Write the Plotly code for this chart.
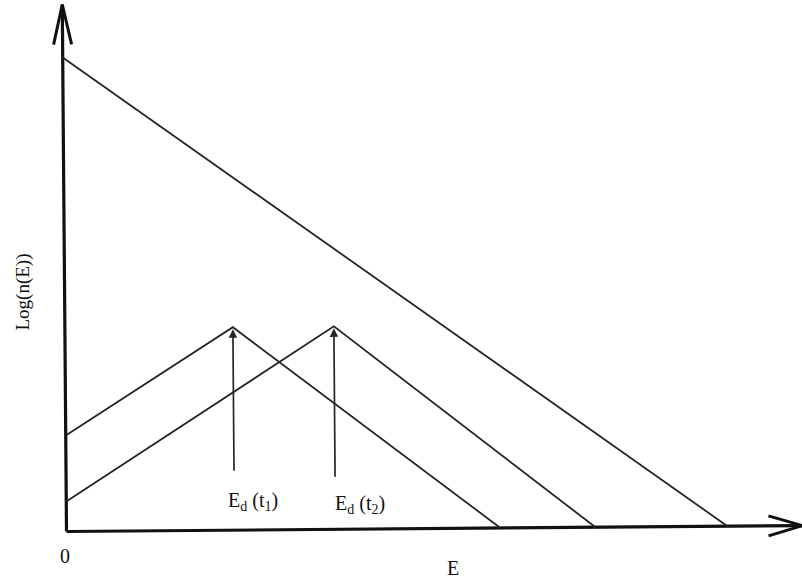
import math
import plotly.graph_objects as go

# Energy distribution sketch: log n(E) against E (arbitrary units)
# Initial distribution: straight decline in log space
initial_E = [0, 661]
initial_logn = [474, 0]

# Distributions after times t1 and t2: rise to a peak at E_d(t), then fall
t1_E = [0, 168, 434]
t1_logn = [96, 203, 0]
t2_E = [0, 269, 529]
t2_logn = [30, 203, 0]

# Markers for the peak energies
peak_labels = ["E<sub>d</sub> (t<sub>1</sub>)", "E<sub>d</sub> (t<sub>2</sub>)"]
peak_E = [168, 269]
peak_logn = [203, 203]
marker_base = [58, 51]
label_pos_E = [187, 294]
label_pos_logn = [29, 25]

# Axis extents
axis_E_max = 736
axis_logn_max = 527

# The whole drawing sits at a slight tilt
TILT = 0.008


def tilt(xs, ys):
    c, s = math.cos(TILT), math.sin(TILT)
    return ([x * c - y * s for x, y in zip(xs, ys)],
            [x * s + y * c for x, y in zip(xs, ys)])


fig = go.Figure()

line_col = "#262626"
axis_col = "#111111"
text_font = dict(family="Liberation Serif", size=20, color="#111")


def add_line(xs, ys, width, color):
    tx, ty = tilt(xs, ys)
    fig.add_trace(go.Scatter(x=tx, y=ty, mode="lines",
                             line=dict(color=color, width=width),
                             hoverinfo="skip", showlegend=False))


# axes with open arrowheads
add_line([0, 0], [0, axis_logn_max], 3.2, axis_col)
add_line([-9, 0, 9], [axis_logn_max - 40, axis_logn_max, axis_logn_max - 40], 3, axis_col)
add_line([0, axis_E_max], [0, 0], 3.2, axis_col)
add_line([axis_E_max - 34, axis_E_max, axis_E_max - 34], [10, 0, -10], 3, axis_col)

# distributions
add_line(initial_E, initial_logn, 1.8, line_col)
add_line(t1_E, t1_logn, 1.8, line_col)
add_line(t2_E, t2_logn, 1.8, line_col)

# arrows pointing at the peaks, with their labels
for lab, pe, pl, base, lx, ly in zip(peak_labels, peak_E, peak_logn, marker_base,
                                     label_pos_E, label_pos_logn):
    (tx0, tx1), (ty0, ty1) = tilt([pe, pe], [base, pl - 2])
    fig.add_annotation(x=tx1, y=ty1, ax=tx0, ay=ty0, xref="x", yref="y",
                       axref="x", ayref="y", showarrow=True, arrowhead=2,
                       arrowsize=1.0, arrowwidth=1.7, arrowcolor=line_col, text="")
    (lxx,), (lyy,) = tilt([lx], [ly])
    fig.add_annotation(x=lxx, y=lyy, xref="x", yref="y", text=lab, showarrow=False,
                       font=text_font)

# axis labels
fig.add_annotation(x=-1.5, y=-24.5, xref="x", yref="y", text="0", showarrow=False,
                   font=text_font)
fig.add_annotation(x=386, y=-36, xref="x", yref="y", text="E", showarrow=False,
                   font=text_font)
fig.add_annotation(x=-44.5, y=239, xref="x", yref="y", text="Log(n(E))", textangle=-90,
                   showarrow=False,
                   font=dict(family="Liberation Serif", size=19, color="#111"))

fig.update_layout(
    width=802, height=579,
    margin=dict(l=0, r=0, t=0, b=0),
    paper_bgcolor="white", plot_bgcolor="white",
    xaxis=dict(range=[-66.5, 735.5], visible=False, fixedrange=True),
    yaxis=dict(range=[-47.5, 531.5], visible=False, fixedrange=True),
)

fig.write_html("out.html")
